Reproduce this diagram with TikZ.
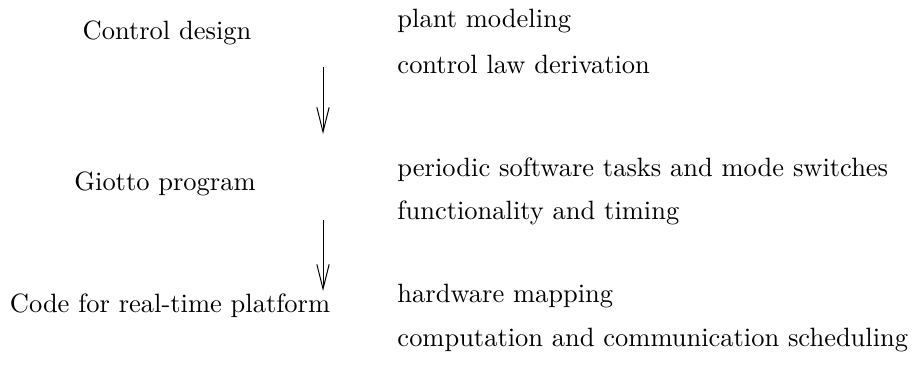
\documentclass[tikz,border=0pt]{standalone}
\usetikzlibrary{arrows.meta}
\begin{document}
\begin{tikzpicture}[x=0.406pt,y=-0.406pt,
  every node/.style={font=\fontsize{10.75}{13}\selectfont},
  lefttext/.style={anchor=center,inner sep=0pt},
  righttext/.style={anchor=west,inner sep=0pt},
  flow/.style={-{Straight Barb[length=10pt,width=5pt]},thin}]
\useasboundingbox (0,0) rectangle (913,377);
\node[lefttext] (cd) at (167,33) {Control design};
\node[lefttext] (gp) at (165,184) {Giotto program};
\node[lefttext] (cr) at (170,306) {Code for real-time platform};
\node[righttext] (r1) at (397,21) {plant modeling};
\node[righttext] (r2) at (397,64) {control law derivation};
\node[righttext] (r3) at (397,170) {periodic software tasks and mode switches};
\node[righttext] (r4) at (397,213) {functionality and timing};
\node[righttext] (r5) at (397,296) {hardware mapping};
\node[righttext] (r6) at (397,340) {computation and communication scheduling};
\coordinate (a1s) at (323,67);
\coordinate (a1e) at (323,134);
\coordinate (a2s) at (323,220);
\coordinate (a2e) at (323,291);
\draw[flow] (a1s) -- (a1e);
\draw[flow] (a2s) -- (a2e);
\end{tikzpicture}
\end{document}
